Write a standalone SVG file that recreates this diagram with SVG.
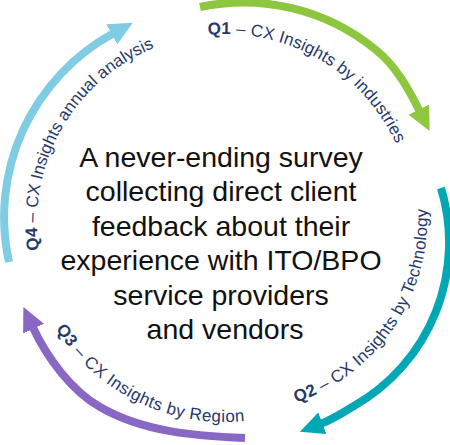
<svg xmlns="http://www.w3.org/2000/svg" width="450" height="445" viewBox="0 0 450 445">
  <style>
    .arc { fill: none; stroke-width: 8; stroke-linecap: butt; }
    .lbl { font-family: "Liberation Sans", Arial, sans-serif; font-size: 17px; fill: #27396B; }
    .b { font-weight: 700; }
    .l1 { letter-spacing: 0.1px; }
    .l2 { letter-spacing: 0.3px; }
    .l3 { letter-spacing: 0.45px; }
    .l4 { letter-spacing: 0px; }
    .center { font-family: "Liberation Sans", Arial, sans-serif; font-size: 28.5px; fill: #111111; text-anchor: middle; }
  </style>
  <defs>
    <marker id="mGreen" viewBox="0 -11.5 24 23" refX="1" refY="0" markerWidth="24" markerHeight="23" markerUnits="userSpaceOnUse" orient="auto"><path d="M0,-11.5 L24,0 L0,11.5 Z" fill="#8DC63F"/></marker>
    <marker id="mTeal" viewBox="0 -11.5 24 23" refX="1" refY="0" markerWidth="24" markerHeight="23" markerUnits="userSpaceOnUse" orient="auto"><path d="M0,-11.5 L24,0 L0,11.5 Z" fill="#00A8B5"/></marker>
    <marker id="mPurple" viewBox="0 -11.5 24 23" refX="1" refY="0" markerWidth="24" markerHeight="23" markerUnits="userSpaceOnUse" orient="auto"><path d="M0,-11.5 L24,0 L0,11.5 Z" fill="#8967C5"/></marker>
    <marker id="mBlue" viewBox="0 -11.5 24 23" refX="1" refY="0" markerWidth="24" markerHeight="23" markerUnits="userSpaceOnUse" orient="auto"><path d="M0,-11.5 L24,0 L0,11.5 Z" fill="#7FCCE3"/></marker>
    <path id="p1" d="M208,34.8 A188,188 0 0 1 412.3,205.6"/>
    <path id="p2" d="M296.3,402.6 A195.5,195.5 0 0 0 420.8,167.4"/>
    <path id="p3" d="M55.9,328.7 A200,200 0 0 0 276.8,415.2"/>
    <path id="p4" d="M39.1,249.8 A188,188 0 0 1 208.6,34.7"/>
  </defs>

  <g id="connectors">
    <path class="arc" stroke="#8DC63F" marker-end="url(#mGreen)" d="M200,7 A209,209 0 0 1 376,50 C395.5,65.7 407.8,87.6 419.3,110.5"/>
    <path class="arc" stroke="#00A8B5" marker-end="url(#mTeal)" d="M441,188 A188,188 0 0 1 354,406 C343.6,412 332.6,419.4 321.4,423.6"/>
    <path class="arc" stroke="#8967C5" marker-end="url(#mPurple)" d="M245,438 C195,436 143.3,432 100,407 C71.4,390.5 47,357.7 33.1,327.8"/>
    <path class="arc" stroke="#7FCCE3" marker-end="url(#mBlue)" d="M9,262 A209,209 0 0 1 112.6,33.8"/>
  </g>

  <g id="q1">
    <text class="lbl l1"><textPath href="#p1"><tspan class="b">Q1</tspan> – CX Insights by industries</textPath></text>
  </g>
  <g id="q2">
    <text class="lbl l2"><textPath href="#p2"><tspan class="b">Q2</tspan> – CX Insights by Technology</textPath></text>
  </g>
  <g id="q3">
    <text class="lbl l3"><textPath href="#p3"><tspan class="b">Q3</tspan> – CX Insights by Region</textPath></text>
  </g>
  <g id="q4">
    <text class="lbl l4"><textPath href="#p4"><tspan class="b">Q4</tspan> – CX Insights annual analysis</textPath></text>
  </g>

  <g id="center">
    <text class="center">
      <tspan x="225" y="167">A never-ending survey</tspan>
      <tspan x="225" y="201.4">collecting direct client</tspan>
      <tspan x="225" y="235.8">feedback about their</tspan>
      <tspan x="225" y="270.2">experience with ITO/BPO</tspan>
      <tspan x="225" y="304.6">service providers</tspan>
      <tspan x="225" y="339">and vendors</tspan>
    </text>
  </g>
</svg>
